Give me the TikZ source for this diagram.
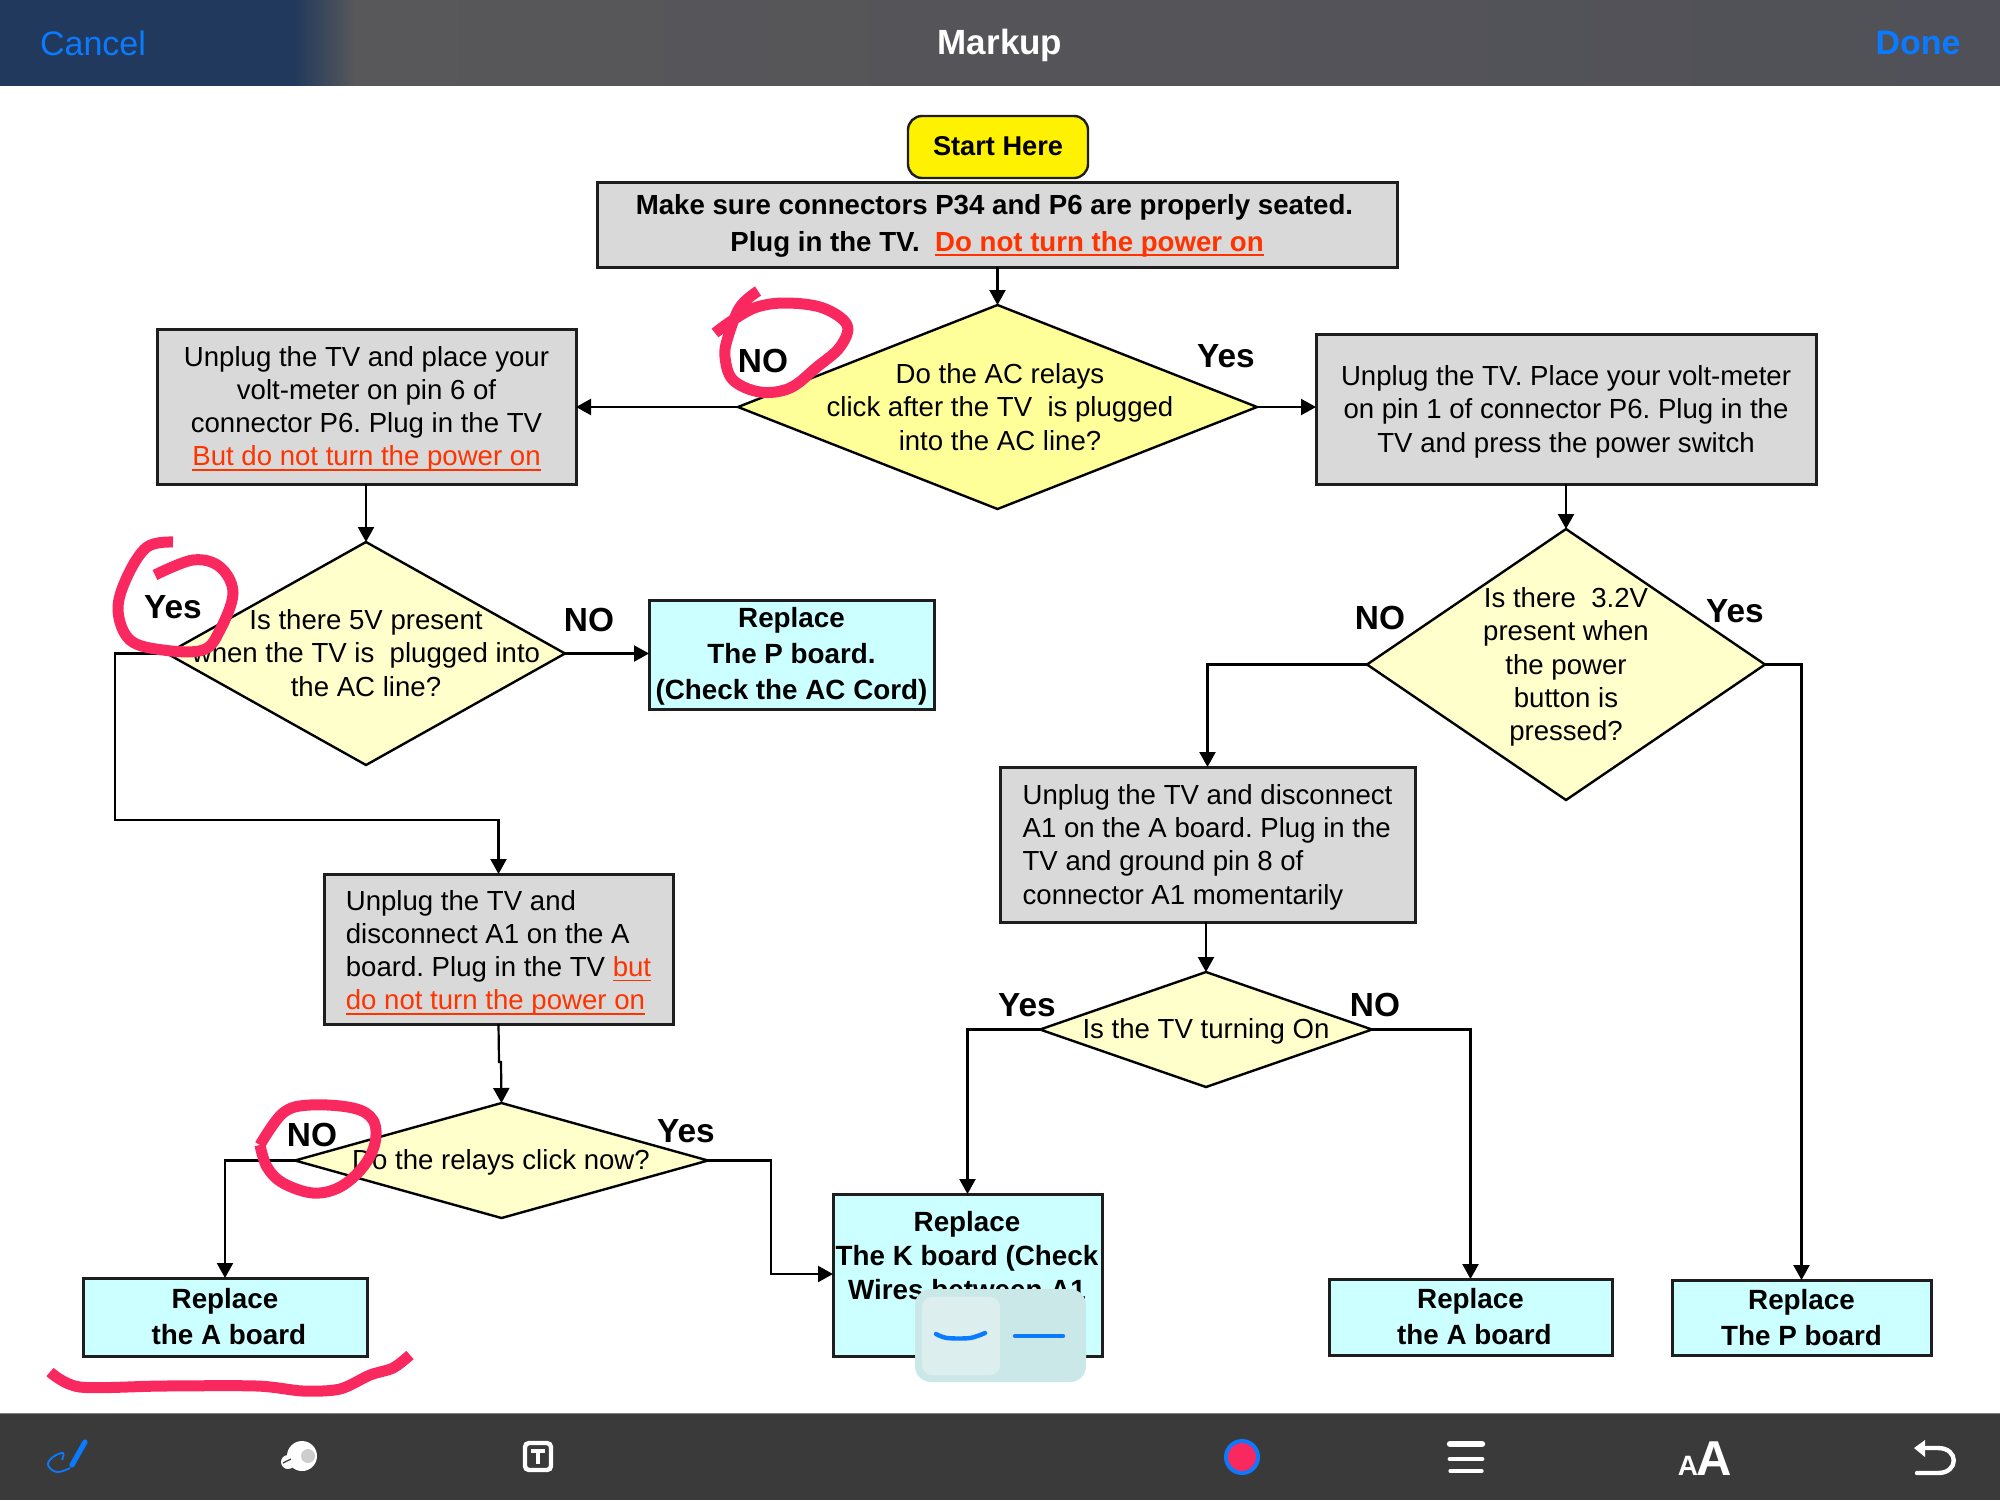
\documentclass[tikz,border=0pt]{standalone}
\usepackage{fontspec}
\setmainfont{Liberation Sans}
\usetikzlibrary{arrows.meta,shapes.geometric}
\definecolor{boxgray}{HTML}{D9D9D9}
\definecolor{boxcyan}{HTML}{CCFFFF}
\definecolor{dpale}{HTML}{FFFFCC}
\definecolor{dyellow}{HTML}{FFFF99}
\definecolor{warnred}{HTML}{FF3300}
\definecolor{ink}{HTML}{F9285F}
\definecolor{iosblue}{HTML}{0A7AFF}
\definecolor{barbot}{HTML}{3A3A3A}
\definecolor{linegray}{HTML}{1E1E1E}
\frenchspacing
\newcommand{\bodyfont}{\fontsize{13.8pt}{16.6pt}\selectfont}
\newcommand{\boldfont}{\fontsize{13.9pt}{18pt}\selectfont\bfseries}
\newcommand{\bx}[7]{%
  \pgfmathsetmacro\mw{(#4-#2)*0.5}\pgfmathsetmacro\mh{(#5-#3)*0.5}%
  \node[#6,minimum width=\mw pt,minimum height=\mh pt] (#1) at ({(#2+#4)/2},{(#3+#5)/2}) {#7};}
\newcommand{\warn}[1]{\textcolor{warnred}{\setbox0\hbox{#1}\rlap{\copy0}\raisebox{-2.3pt}{\rule{\wd0}{0.8pt}}}}
\newcommand{\low}[1]{\rule{0pt}{#1pt}}
\tikzset{
  base/.style={draw=linegray,line width=1.5pt,inner sep=0pt,outer sep=0pt,align=center},
  graybox/.style={base,fill=boxgray,font=\bodyfont},
  cyanbox/.style={base,fill=boxcyan,font=\boldfont},
  startbox/.style={base,fill=yellow,rounded corners=7pt,line width=1.2pt,font=\fontsize{13.6pt}{18pt}\selectfont\bfseries},
  dia/.style={draw=black,line width=1.2pt,shape=diamond,inner sep=0pt,outer sep=0pt,fill=dpale},
  dtext/.style={inner sep=0pt,align=center,font=\bodyfont},
  answer/.style={inner sep=0pt,font=\fontsize{16.7pt}{16.7pt}\selectfont\bfseries},
  conn/.style={draw=black,line width=1.1pt,-{Triangle[length=7.5pt,width=8pt]}},
  scribble/.style={draw=ink,line width=5.5pt},
}
\begin{document}
\begin{tikzpicture}[x=0.5pt,y=-0.5pt]
\useasboundingbox (0,0) rectangle (2000,1500);
\fill[white] (0,0) rectangle (2000,1500);
% top bar
\fill[fill={rgb,255:red,33;green,57;blue,92}] (0,0) rectangle (295,90);
\shade[left color={rgb,255:red,33;green,57;blue,92},right color={rgb,255:red,88;green,88;blue,90}] (294,0) rectangle (355,90);
\shade[left color={rgb,255:red,88;green,88;blue,90},right color={rgb,255:red,80;green,80;blue,88}] (354,0) rectangle (2000,90);
\fill[white] (0,86) rectangle (2000,92);
\node[inner sep=0pt,text=iosblue,font=\fontsize{17pt}{17pt}\selectfont] (cancel) at (93,43) {Cancel};
\node[inner sep=0pt,text=white,font=\fontsize{17.5pt}{17.5pt}\selectfont\bfseries] (markup) at (1000,45) {Markup};
\node[inner sep=0pt,text=iosblue,font=\fontsize{17pt}{17pt}\selectfont\bfseries] (done) at (1918,43) {Done};
% boxes
\bx{start}{908}{116}{1088}{178}{startbox}{\rule[-1.3pt]{0pt}{1.3pt}Start Here}
\bx{mk}{597}{182}{1397}{267}{base,fill=boxgray,font=\fontsize{13.82pt}{18.3pt}\selectfont\bfseries}{\low{11.5}Make sure connectors P34 and P6 are properly seated.\hspace*{2.5pt}\\Plug in the TV.\ \ \warn{Do not turn the power on}}
\bx{lb}{157}{329}{576}{484}{graybox}{\low{12.5}Unplug the TV and place your\\volt-meter on pin 6 of\\connector P6. Plug in the TV\\\warn{But do not turn the power on}}
\bx{rb}{1316}{334}{1816}{484}{graybox}{\low{12.7}Unplug the TV. Place your volt-meter\\on pin 1 of connector P6. Plug in the\\TV and press the power switch}
\bx{rp}{649}{600}{934}{709}{cyanbox}{\low{11.6}Replace\\The P board.\\(Check the AC Cord)}
\bx{ra}{1000}{767}{1415}{922}{graybox,align=left}{\low{12.7}Unplug the TV and disconnect\\A1 on the A board. Plug in the\\TV and ground pin 8 of\\connector A1 momentarily}
\bx{la}{324}{874}{673}{1024}{graybox,align=left}{\low{14}Unplug the TV and\\disconnect A1 on the A\\board. Plug in the TV \warn{but}\\\warn{do not turn the power on}}
\bx{repa}{83}{1278}{367}{1356}{cyanbox}{Replace\\\ the A board}
\bx{repk}{833}{1194}{1102}{1356}{base,fill=boxcyan}{}
\bx{repb}{1329}{1279}{1612}{1355}{cyanbox}{Replace\\\ the A board}
\bx{repp}{1672}{1280}{1931}{1355}{cyanbox}{Replace\\The P board}
\node[inner sep=0pt,align=center,font=\fontsize{13.9pt}{17pt}\selectfont\bfseries] (ktext) at (967,1256) {Replace\\The K board (Check\\Wires between A1};
% diamonds
\bx{d1}{738}{305}{1257}{509}{dia,fill=dyellow}{}
\bx{d2}{167}{542}{565}{765}{dia}{}
\bx{d3}{1367}{529}{1765}{800}{dia}{}
\bx{d4}{1040}{972}{1372}{1087}{dia}{}
\bx{d5}{295}{1103}{708}{1218}{dia}{}
\node[dtext] (d1t) at (1000,407) {Do the AC relays\\click after the TV\ \ is plugged\\into the AC line?};
\node[dtext] (d2t) at (366,653) {Is there 5V present\\when the TV is\ \ plugged into\\the AC line?};
\node[dtext] (d3t) at (1566,667) {Is there\ \ 3.2V\\present when\\the power\\button is\\pressed?};
\node[dtext] (d4t) at (1206,1031.5) {Is the TV turning On};
\node[dtext] (d5t) at (501,1162.5) {Do the relays click now?};
% connectors
\coordinate (c1) at (115,820);
\coordinate (c2) at (771,1274);
\coordinate (c3) at (499,1062);
\coordinate (c4) at (501,1062);
\draw[conn] (d1.north |- mk.south) -- (d1.north);
\draw[conn] (d1.west) -- (d1.west -| lb.east);
\draw[conn] (d1.east) -- (d1.east -| rb.west);
\draw[conn] (d2.north |- lb.south) -- (d2.north);
\draw[conn] (d2.west) -| (c1) -| (la.north);
\draw[conn] (d2.east) -- (d2.east -| rp.west);
\draw[conn] (rb.south) -- (d3.north);
\draw[conn] (d3.west) -| (ra.north);
\draw[conn] (d3.east) -| (repp.north);
\draw[conn] (ra.south -| d4.north) -- (d4.north);
\draw[conn] (d4.west) -| (repk.north);
\draw[conn] (d4.east) -| (repb.north);
\draw[conn] (la.south) -- (c3) -- (c4) -- (d5.north);
\draw[conn] (d5.west) -| (repa.north);
\draw[conn] (d5.east) -| (c2) -- (c2 -| repk.west);
% answers
\node[answer] (a1) at (763,361) {NO};
\node[answer] (a2) at (1226,356) {Yes};
\node[answer] (a3) at (173,607) {Yes};
\node[answer] (a4) at (589,620) {NO};
\node[answer] (a5) at (1380,618) {NO};
\node[answer] (a6) at (1735,611) {Yes};
\node[answer] (a7) at (1027,1005) {Yes};
\node[answer] (a8) at (1375,1005) {NO};
\node[answer] (a9) at (312,1135) {NO};
\node[answer] (a10) at (686,1131) {Yes};
% markup scribbles
\draw[scribble] plot[smooth,tension=0.6] coordinates {(715,333) (733,320) (757,307) (787,303) (823,308) (847,325) (840,347) (817,367) (790,388) (760,392) (733,380) (725,357) (728,337) (740,307) (758,291)};
\draw[scribble] plot[smooth,tension=0.6] coordinates {(173,542) (147,547) (127,577) (118,610) (130,640) (163,650) (203,650) (220,630) (233,593) (220,567) (193,560) (155,575)};
\draw[scribble] plot[smooth,tension=0.6] coordinates {(260,1145) (283,1113) (310,1105) (353,1108) (373,1120) (375,1143) (363,1167) (340,1187) (313,1193) (283,1183) (267,1167) (260,1145)};
\draw[scribble] plot[smooth,tension=0.5] coordinates {(50,1372) (80,1387) (163,1386) (257,1386) (303,1391) (340,1389) (370,1375) (393,1368) (410,1355)};
% line style popup
\fill[fill={rgb,255:red,203;green,232;blue,233},rounded corners=8pt] (915,1289) rectangle (1086,1382);
\fill[fill={rgb,255:red,220;green,238;blue,238},rounded corners=5pt] (922,1297) rectangle (1000,1375);
\draw[iosblue,line width=2.2pt,line cap=round] plot[smooth,tension=0.5] coordinates {(936,1334) (947,1338) (970,1338) (985,1333)};
\draw[iosblue,line width=2.2pt,line cap=round] (1015,1336) -- (1063,1336);
% bottom bar
\fill[barbot] (0,1413) rectangle (2000,1500);
\draw[gray,line width=0.5pt] (0,1413) -- (2000,1413);
% pen icon
\draw[iosblue,line width=2.6pt,line cap=round] (85,1442) -- (72,1465);
\draw[iosblue,line width=0.9pt] plot[smooth,tension=0.7] coordinates {(70,1468) (57,1472) (48,1465) (53,1457) (63,1453) (62,1460)};
% eraser icon
\fill[white] (302,1456) circle (15);
\fill[white] (288,1462) circle (7);
\fill[fill={rgb,255:red,205;green,205;blue,205}] (308,1456) circle (7);
\draw[barbot,line width=0.6pt] (283,1463) -- (291,1459);
% text tool icon
\draw[white,line width=2.2pt,rounded corners=2pt] (525,1443) rectangle (551,1470);
\draw[white,line width=2.4pt] (531,1451) -- (545,1451) (538,1451) -- (538,1464);
% colour dot
\fill[iosblue] (1242,1457) circle (18);
\fill[ink] (1242,1457) circle (14);
% line width icon
\draw[white,line width=3.2pt,line cap=round] (1450,1444) -- (1482,1444);
\draw[white,line width=2.4pt,line cap=round] (1450,1459) -- (1482,1459);
\draw[white,line width=1.6pt,line cap=round] (1450,1471) -- (1482,1471);
% text size icon
\node[inner sep=0pt,anchor=base,text=white,font=\fontsize{14pt}{14pt}\selectfont\bfseries] (asmall) at (1688,1475) {A};
\node[inner sep=0pt,anchor=base,text=white,font=\fontsize{24.5pt}{24.5pt}\selectfont\bfseries] (abig) at (1714,1475) {A};
% undo icon
\draw[white,line width=2.2pt,line cap=round] (1917,1473) -- (1938,1473) .. controls (1959,1473) and (1959,1448) .. (1938,1448) -- (1924,1448);
\fill[white] (1914,1448) -- (1925,1440) -- (1925,1457) -- cycle;
\end{tikzpicture}
\end{document}
